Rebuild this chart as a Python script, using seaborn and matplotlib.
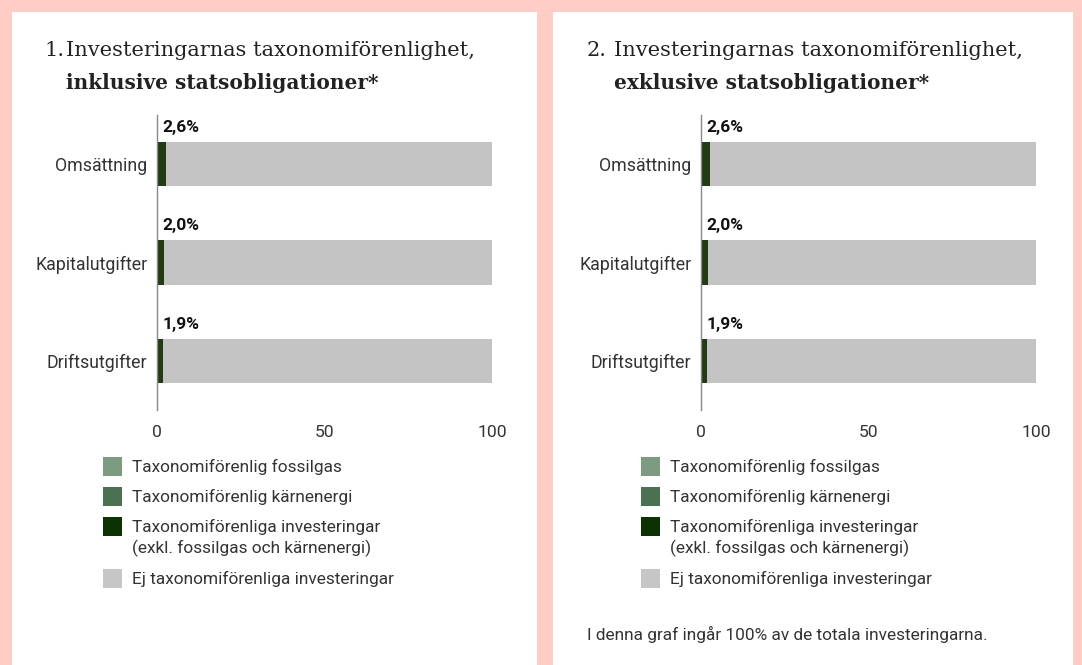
import matplotlib
matplotlib.use('Agg')
import matplotlib.pyplot as plt
import seaborn as sns
import pandas as pd
from matplotlib.patches import Rectangle

sns.set_theme(style='white')
plt.rcParams['font.family'] = ['Roboto', 'DejaVu Sans']

# data
categories = ['Omsättning', 'Kapitalutgifter', 'Driftsutgifter']
aligned_incl = [2.6, 2.0, 1.9]
aligned_excl = [2.6, 2.0, 1.9]
total = [100, 100, 100]
value_labels_incl = ['2,6%', '2,0%', '1,9%']
value_labels_excl = ['2,6%', '2,0%', '1,9%']
x_ticks = [0, 50, 100]

titles_num = ['1.', '2.']
titles_line1 = 'Investeringarnas taxonomiförenlighet,'
titles_line2 = ['inklusive statsobligationer*', 'exklusive statsobligationer*']

legend_labels = ['Taxonomiförenlig fossilgas',
                 'Taxonomiförenlig kärnenergi',
                 'Taxonomiförenliga investeringar\n(exkl. fossilgas och kärnenergi)',
                 'Ej taxonomiförenliga investeringar']
legend_colors = ['#7d9b80', '#4b7152', '#0b3200', '#c6c6c6']
footnote = 'I denna graf ingår 100% av de totala investeringarna.'

PINK = '#ffcdc6'
BAR_DARK = '#233b14'
BAR_GRAY = '#c4c4c4'
TEXT = '#333333'

W, H = 1082, 665
fig = plt.figure(figsize=(W / 100, H / 100), dpi=100)
fig.patch.set_facecolor(PINK)


def fx(px):
    return px / W


def fy(py):
    return 1 - py / H


# white panels
for left, right in [(12, 537), (553, 1073)]:
    fig.patches.append(Rectangle((fx(left), 0), fx(right - left), fy(12),
                                 transform=fig.transFigure, facecolor='white',
                                 edgecolor='none', zorder=-5))

panels = [
    dict(ax_left=157, title_x=44, text_x=66, values=aligned_incl, labels=value_labels_incl, leg_x=103),
    dict(ax_left=701, title_x=587, text_x=614, values=aligned_excl, labels=value_labels_excl, leg_x=641),
]

for i, p in enumerate(panels):
    ax = fig.add_axes([fx(p['ax_left']), fy(410), fx(335), 295 / H])
    df = pd.DataFrame({'cat': categories, 'total': total, 'val': p['values']})
    sns.barplot(data=df, x='total', y='cat', color=BAR_GRAY, width=0.45,
                saturation=1, ax=ax, orient='h', linewidth=0)
    sns.barplot(data=df, x='val', y='cat', color=BAR_DARK, width=0.45,
                saturation=1, ax=ax, orient='h', linewidth=0)
    ax.set_xlim(0, 100)
    ax.set_ylim(2.5, -0.5)
    ax.set_xticks(x_ticks)
    ax.set_xlabel('')
    ax.set_ylabel('')
    ax.set_facecolor('none')
    for s in ['top', 'right', 'bottom']:
        ax.spines[s].set_visible(False)
    ax.spines['left'].set_color('#888888')
    ax.spines['left'].set_linewidth(1)
    ax.spines['left'].set_zorder(5)
    ax.tick_params(axis='x', length=0, pad=11, labelsize=12.6, labelcolor=TEXT)
    ax.tick_params(axis='y', length=0, pad=7, labelsize=12.8, labelcolor=TEXT)
    for j, lab in enumerate(p['labels']):
        ax.annotate(lab, xy=(0, j - 0.225), xytext=(4, 5), textcoords='offset points',
                    ha='left', va='bottom', fontsize=12.5, fontweight='bold', color='#111111')

    # title
    fig.text(fx(p['title_x']), fy(50), titles_num[i], family='DejaVu Serif',
             fontsize=15, color='#222222', va='center', ha='left')
    fig.text(fx(p['text_x']), fy(50), titles_line1, family='DejaVu Serif',
             fontsize=15, color='#222222', va='center', ha='left')
    fig.text(fx(p['text_x']), fy(83), titles_line2[i], family='DejaVu Serif',
             fontsize=14.5, fontweight='bold', color='#222222', va='center', ha='left')

    # legend
    y = 467
    for lab, col in zip(legend_labels, legend_colors):
        multi = '\n' in lab
        fig.patches.append(Rectangle((fx(p['leg_x']), fy(y + 9)), fx(19), 19 / H,
                                     transform=fig.transFigure, facecolor=col,
                                     edgecolor='none'))
        fig.text(fx(p['leg_x'] + 29), fy(y + 11 if multi else y), lab, fontsize=12.4,
                 color=TEXT, va='center', ha='left', linespacing=1.3)
        y += 30 + (22 if multi else 0)

fig.text(fx(587), fy(634), footnote, fontsize=12.4, color=TEXT, va='center', ha='left')

fig.savefig('out.png', dpi=100, facecolor=fig.get_facecolor())
